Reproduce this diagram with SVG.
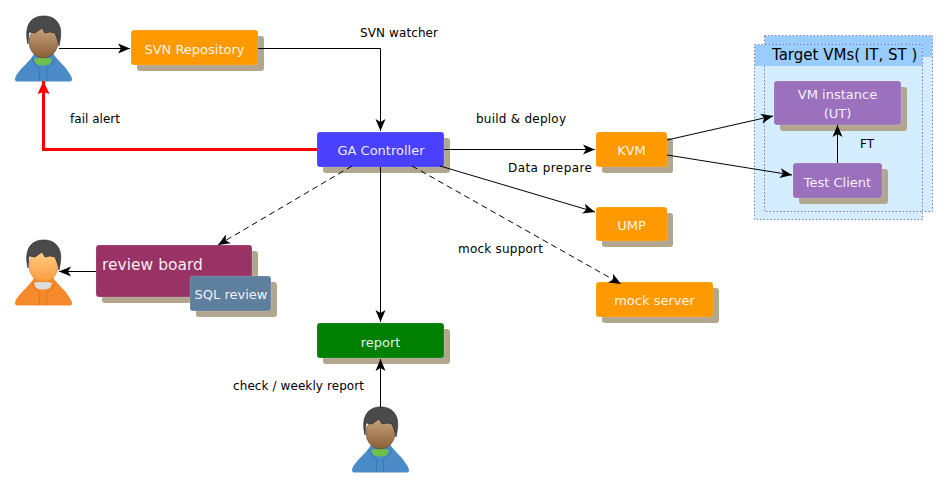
<svg xmlns="http://www.w3.org/2000/svg" xmlns:xlink="http://www.w3.org/1999/xlink" width="947" height="495" viewBox="0 0 947 495">
<style>
text{font-family:"DejaVu Sans",sans-serif;font-size:12px;fill:#000}
.n{font-size:13px;fill:#fff;fill-opacity:.92;text-anchor:middle}
.s{fill:#b2a68f}
.b{stroke-width:.6;stroke-opacity:.25;stroke:#fff}
.c{fill:none;stroke:#000;stroke-width:1}
.d{stroke-dasharray:6 4}
.t{fill:#d5eeff;stroke:#7a7ab0;stroke-width:1;stroke-dasharray:1.5 2}
.h{fill:#99ccff}
.l{fill:none;stroke-width:.7}
</style>
<defs>
<marker id="a" markerUnits="userSpaceOnUse" markerWidth="13" markerHeight="12" refX="12" refY="6" orient="auto"><path d="M0 1L12 6L0 11L3 6Z" fill="#000"/></marker>
<marker id="r" markerUnits="userSpaceOnUse" markerWidth="14" markerHeight="14" refX="13" refY="7" orient="auto"><path d="M0 1L13 7L0 13L2 7Z" fill="#f00"/></marker>
<linearGradient id="face" x1="0" y1="0" x2="0" y2="1"><stop offset="0" stop-color="#c9a67e"/><stop offset="1" stop-color="#8d5f38"/></linearGradient>
<linearGradient id="oface" x1="0" y1="0" x2="0" y2="1"><stop offset="0" stop-color="#ffd08a"/><stop offset="1" stop-color="#fb9a3c"/></linearGradient>
<path id="bodyshape" d="M0 63C0 60 5 54 9 50C13 46 17 42 20 36L28 40L37 36C41 42 45 46 49 50C52 54 57 60 57 63C57 65 56 65.500 54 65.500L3 65.500C1 65.500 0 65 0 63Z"/>
<path id="hoodlines" d="M17 42C18 47 22 51 25 53L24 65M40 42C39 47 35 51 31 53L32 65"/>
<path id="hair" d="M13 28C11 20 11 12 15 6C19 1 24 0 29 0C35 0 40 2 43 7C47 13 46 21 44 30L43 25L40 17L35 16L30 17L27 12L20 17L14 16Z" fill="#4a4a4a" stroke="#222" stroke-width=".6"/>
</defs>
<g id="target-vms">
<rect class="t" x="764.500" y="35.500" width="168" height="176"/>
<path class="h" d="M765 36H932V57H765Z"/>
<rect class="t" x="754.500" y="44.500" width="168" height="175"/>
<path class="h" d="M755 45H922V66H755Z"/>
<path d="M764.500 66V211.500H922" fill="none" stroke="#7a7ab0" stroke-dasharray="1.500 2"/>
<text x="772" y="60" style="font-size:15px">Target VMs( IT, ST )</text>
</g>
<g id="user1" transform="translate(15 16)">
<use xlink:href="#bodyshape" fill="#4b8bc8"/>
<use xlink:href="#hoodlines" class="l" stroke="#2f6aa5"/>
<path d="M19 43Q28 40 37 43L35 48Q28 51 21 48Z" fill="#6fbf4f"/>
<ellipse cx="28.500" cy="26" rx="14.500" ry="16" fill="url(#face)" stroke="#5a3a1e" stroke-width=".5"/>
<use xlink:href="#hair"/>
</g>
<g id="svn-repository"><rect class="s" x="137" y="36" width="127" height="35" rx="3"/><rect class="b" x="131" y="30" width="127" height="35" rx="3" fill="#ff9900"/><text class="n" x="194.500" y="54">SVN Repository</text></g>
<g id="ga-controller"><rect class="s" x="323" y="138" width="127" height="35" rx="3"/><rect class="b" x="317" y="132" width="127" height="35" rx="3" fill="#4a40ff"/><text class="n" x="381" y="155">GA Controller</text></g>
<g id="kvm"><rect class="s" x="602" y="138" width="71" height="35" rx="3"/><rect class="b" x="596" y="132" width="71" height="35" rx="3" fill="#ff9900"/><text class="n" x="631.500" y="155">KVM</text></g>
<g id="ump"><rect class="s" x="602" y="213" width="71" height="34" rx="3"/><rect class="b" x="596" y="207" width="71" height="34" rx="3" fill="#ff9900"/><text class="n" x="631.500" y="230">UMP</text></g>
<g id="mock-server"><rect class="s" x="602" y="288" width="117" height="35" rx="3"/><rect class="b" x="596" y="282" width="117" height="35" rx="3" fill="#ff9900"/><text class="n" x="654.500" y="305">mock server</text></g>
<g id="report"><rect class="s" x="323" y="329" width="127" height="35" rx="3"/><rect class="b" x="317" y="323" width="127" height="35" rx="3" fill="#008000"/><text class="n" x="380.500" y="347">report</text></g>
<g id="review-board"><rect class="s" x="102" y="251" width="156" height="52" rx="3"/><rect class="b" x="96" y="245" width="156" height="52" rx="3" fill="#993366"/><text x="102" y="270" style="font-size:15.500px;fill:#fff;fill-opacity:.92">review board</text></g>
<g id="sql-review"><rect class="s" x="196" y="282" width="81" height="35" rx="3"/><rect class="b" x="190" y="276" width="81" height="35" rx="3" fill="#5f7f9f"/><text class="n" x="231" y="299">SQL review</text></g>
<g id="vm-instance"><rect class="s" x="780" y="87" width="127" height="44" rx="3"/><rect class="b" x="774" y="81" width="127" height="44" rx="3" fill="#9b70bd"/><text class="n" x="837.500" y="99">VM instance</text><text class="n" x="837.500" y="118">(UT)</text></g>
<g id="test-client"><rect class="s" x="799" y="169" width="89" height="35" rx="3"/><rect class="b" x="793" y="163" width="89" height="35" rx="3" fill="#9b70bd"/><text class="n" x="837.500" y="187">Test Client</text></g>
<g id="user2" transform="translate(15 240)">
<use xlink:href="#bodyshape" fill="#f58a2c"/>
<use xlink:href="#hoodlines" class="l" stroke="#d86a10"/>
<path d="M19 43Q28 40 37 43L35 48Q28 51 21 48Z" fill="#ddd"/>
<ellipse cx="28.500" cy="26" rx="14.500" ry="16" fill="url(#oface)" stroke="#d87a20" stroke-width=".5"/>
<use xlink:href="#hair"/>
</g>
<g id="user3" transform="translate(352 407)">
<use xlink:href="#bodyshape" fill="#4b8bc8"/>
<use xlink:href="#hoodlines" class="l" stroke="#2f6aa5"/>
<path d="M19 43Q28 40 37 43L35 48Q28 51 21 48Z" fill="#6fbf4f"/>
<ellipse cx="28.500" cy="26" rx="14.500" ry="16" fill="url(#face)" stroke="#5a3a1e" stroke-width=".5"/>
<use xlink:href="#hair"/>
</g>
<g id="connectors">
<path class="c" d="M59 48.500H130" marker-end="url(#a)"/>
<path class="c" d="M258 48.500H380.500V131" marker-end="url(#a)"/>
<path d="M317 149.500H43.500V81" fill="none" stroke="#f00" stroke-width="3" marker-end="url(#r)"/>
<path class="c" d="M444 149.500H595" marker-end="url(#a)"/>
<path class="c" d="M440 166L595 212" marker-end="url(#a)"/>
<path class="c d" d="M412 166L621 284" marker-end="url(#a)"/>
<path class="c d" d="M352 166L218 245" marker-end="url(#a)"/>
<path class="c" d="M380.500 167V322" marker-end="url(#a)"/>
<path class="c" d="M380.500 407V359" marker-end="url(#a)"/>
<path class="c" d="M96 271.500H59" marker-end="url(#a)"/>
<path class="c" d="M667 140L773 116" marker-end="url(#a)"/>
<path class="c" d="M667 155L792 175" marker-end="url(#a)"/>
<path class="c" d="M837.500 163V125" marker-end="url(#a)"/>
</g>
<g id="labels">
<text x="360" y="37" textLength="78">SVN watcher</text>
<text x="70" y="123" textLength="50">fail alert</text>
<text x="476" y="123" textLength="90">build &amp; deploy</text>
<text x="508" y="172" textLength="84">Data prepare</text>
<text x="458" y="253" textLength="85">mock support</text>
<text x="233" y="390" textLength="131">check / weekly report</text>
<text x="860" y="148">FT</text>
</g>
</svg>
